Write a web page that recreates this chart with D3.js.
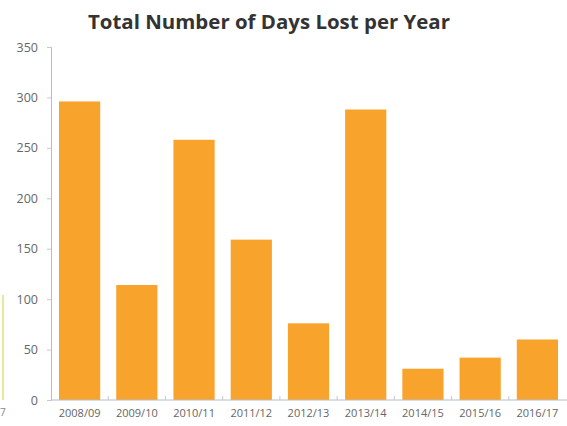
<!DOCTYPE html>
<html><head><meta charset="utf-8">
<script src="https://cdn.jsdelivr.net/npm/d3@7"></script>
<style>body{margin:0;background:#fff}svg{display:block}</style>
</head><body>
<script>
const categories = ["2008/09","2009/10","2010/11","2011/12","2012/13","2013/14","2014/15","2015/16","2016/17"];
const daysLost = [296,114,258,159,76,288,31,42,60];
const yTicks = [0,50,100,150,200,250,300,350];
const title = "Total Number of Days Lost per Year";

const W=567,H=426;
const svg=d3.select("body").append("svg").attr("width",W).attr("height",H);
const x=d3.scaleBand().domain(categories).range([51,566]).paddingInner(0.28).paddingOuter(0.14);
const y=d3.scaleLinear().domain([0,350]).range([400,47]);

// fragment of neighbouring chart at left edge
svg.append("line").attr("x1",3).attr("x2",3).attr("y1",y(104)).attr("y2",y(0))
  .attr("stroke","#d9e27a").attr("stroke-width",1.5);
svg.append("text").attr("x",0).attr("y",416).attr("font-family","Open Sans").attr("font-size",10)
  .attr("fill","#888").text("7");

svg.append("text").attr("x",269).attr("y",29).attr("text-anchor","middle")
  .attr("font-family","Open Sans").attr("font-weight","bold").attr("font-size",20).attr("fill","#333")
  .attr("textLength",362).attr("lengthAdjust","spacingAndGlyphs")
  .text(title);

svg.selectAll("rect.bar").data(daysLost).join("rect").attr("class","bar")
  .attr("x",(d,i)=>x(categories[i])).attr("width",x.bandwidth())
  .attr("y",d=>y(d)).attr("height",d=>y(0)-y(d)).attr("fill","#f8a32c");

const ya=svg.append("g").attr("transform","translate(51,0)")
  .call(d3.axisLeft(y).tickValues(yTicks).tickSize(4).tickPadding(9));
ya.select(".domain").attr("stroke","#b8bccc");
ya.selectAll(".tick line").attr("stroke","#c4c7d2");
ya.selectAll("text").attr("font-family","Open Sans").attr("font-size",12.5).attr("fill","#666");

const xa=svg.append("g").attr("transform","translate(0,400)")
  .call(d3.axisBottom(x).tickSize(0).tickPadding(9));
xa.select(".domain").attr("stroke","#b8bccc").attr("d","M51,0H567");
xa.selectAll("text").attr("font-family","Open Sans").attr("font-size",11).attr("fill","#666");
// separator ticks between bands
const bounds=categories.slice(1).map(c=>x(c)-x.step()*x.paddingInner()/2);
svg.selectAll("line.sep").data(bounds).join("line").attr("class","sep")
  .attr("x1",d=>d).attr("x2",d=>d).attr("y1",396).attr("y2",400).attr("stroke","#c4c7d2");
</script>
</body></html>
